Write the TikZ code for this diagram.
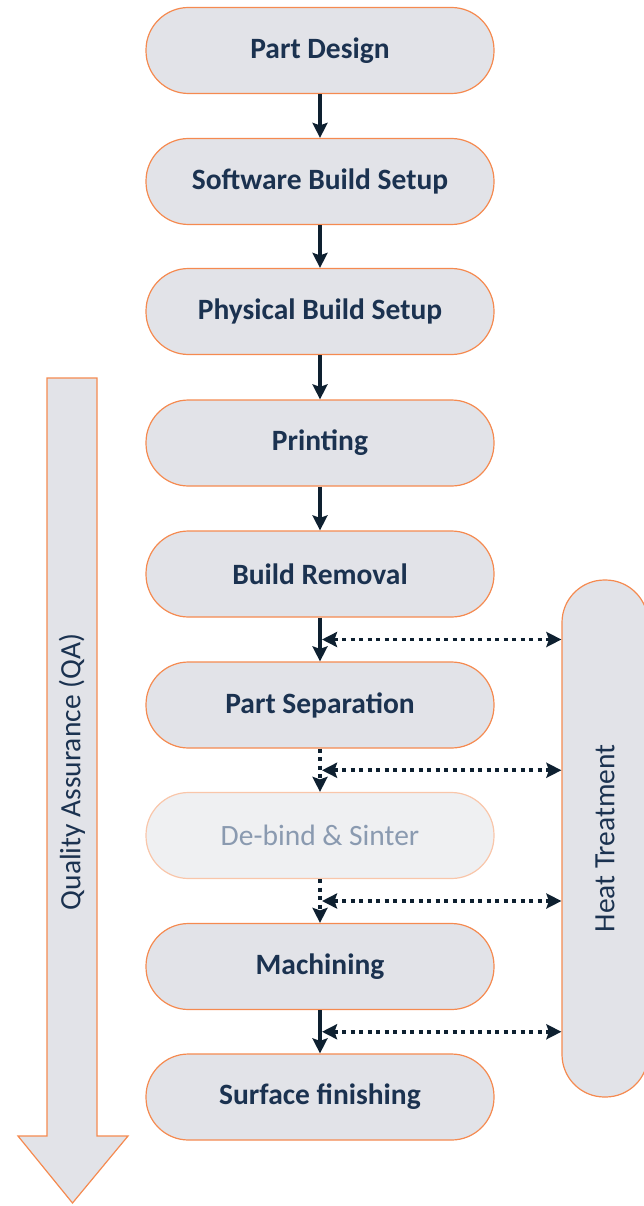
\documentclass[tikz,border=0pt]{standalone}
\usepackage{fontspec}
\setmainfont{Carlito}
\usepackage{tikz}
\usetikzlibrary{arrows.meta, positioning, calc}
\definecolor{amOrange}{RGB}{245,138,80}
\definecolor{amPale}{RGB}{249,198,170}
\definecolor{amGrey}{RGB}{226,227,232}
\definecolor{amGreyLight}{RGB}{239,240,242}
\definecolor{amNavy}{RGB}{27,50,80}
\definecolor{amInk}{RGB}{14,32,48}
\definecolor{amFaded}{RGB}{138,154,176}

\begin{document}
\begin{tikzpicture}[x=1pt, y=-1pt,
    stage/.style={rectangle, draw=amOrange, fill=amGrey, line width=1.2pt,
        minimum width=348pt, minimum height=86pt, rounded corners=42.5pt,
        font=\fontsize{29.5}{34}\selectfont\bfseries, text=amNavy},
    faded/.style={draw=amPale, fill=amGreyLight, text=amFaded,
        font=\fontsize{29.5}{34}\selectfont},
    side/.style={rectangle, draw=amOrange, fill=amGrey, line width=1.2pt,
        minimum width=86pt, minimum height=517pt, rounded corners=42.5pt,
        font=\fontsize{29.5}{34}\selectfont, text=amNavy},
    flow/.style={-{Stealth[length=15pt, width=15pt, inset=2.5pt]},
        line width=3.6pt, amInk},
    dotflow/.style={dash pattern=on 4pt off 4.5pt},
    link/.style={{Stealth[length=15pt, width=15pt, inset=2.5pt]}-{Stealth[length=15pt, width=15pt, inset=2.5pt]},
        line width=3.8pt, amInk, dash pattern=on 4pt off 4.5pt}
]
\useasboundingbox (0,0) rectangle (644,1206);

% quality assurance arrow
\draw[draw=amOrange, fill=amGrey, line width=1.2pt]
    (47,378) -- (97,378) -- (97,1136) -- (128,1136) -- (72.5,1203)
    -- (18,1136) -- (47,1136) -- cycle;
\node[text=amNavy, font=\fontsize{29.5}{34}\selectfont] (qa) at (72,772)
    {\rotatebox{90}{Quality Assurance (QA)}};

% process stages
\node[stage] (design)     at (320,50.5)  {Part Design};
\node[stage] (software)   at (320,181.5) {Software Build Setup};
\node[stage] (physical)   at (320,311.5) {Physical Build Setup};
\node[stage] (printing)   at (320,443)   {Printing};
\node[stage] (removal)    at (320,574)   {Build Removal};
\node[stage] (separation) at (320,705)   {Part Separation};
\node[stage, faded] (sinter) at (320,835.5) {De-bind \& Sinter};
\node[stage] (machining)  at (320,966.5) {Machining};
\node[stage] (finishing)  at (320,1097)  {Surface finishing};

\node[side] (heat) at (605,838.5) {\rotatebox{90}{Heat Treatment}};

\draw[flow] (design) -- (software);
\draw[flow] (software) -- (physical);
\draw[flow] (physical) -- (printing);
\draw[flow] (printing) -- (removal);
\draw[flow] (removal) -- (separation);
\draw[flow, dotflow] (separation) -- (sinter);
\draw[flow, dotflow] (sinter) -- (machining);
\draw[flow] (machining) -- (finishing);

% links to heat treatment
\coordinate (h1) at ($(removal.south)!0.5!(separation.north)+(2,0)$);
\coordinate (h2) at ($(separation.south)!0.5!(sinter.north)+(2,0)$);
\coordinate (h3) at ($(sinter.south)!0.5!(machining.north)+(2,0)$);
\coordinate (h4) at ($(machining.south)!0.5!(finishing.north)+(2,0)$);
\draw[link] (h1) -- (h1 -| heat.west);
\draw[link] (h2) -- (h2 -| heat.west);
\draw[link] (h3) -- (h3 -| heat.west);
\draw[link] (h4) -- (h4 -| heat.west);
\end{tikzpicture}
\end{document}
